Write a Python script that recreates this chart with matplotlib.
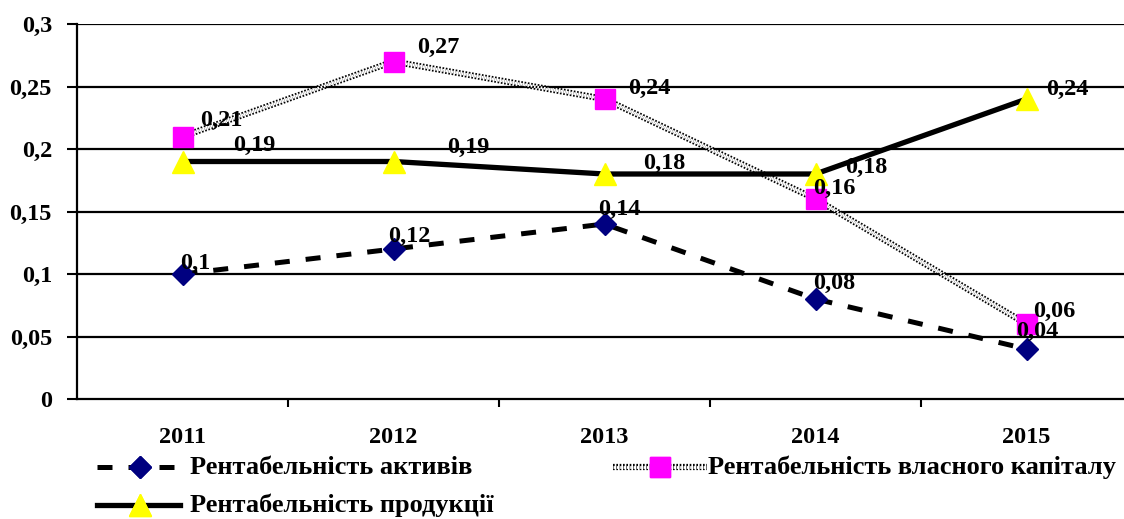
import matplotlib
matplotlib.use("Agg")
import matplotlib.pyplot as plt
import matplotlib.patheffects as pe
from matplotlib.lines import Line2D

years = ["2011", "2012", "2013", "2014", "2015"]
assets = [0.10, 0.12, 0.14, 0.08, 0.04]
equity = [0.21, 0.27, 0.24, 0.16, 0.06]
product = [0.19, 0.19, 0.18, 0.18, 0.24]
names = ["Рентабельність активів", "Рентабельність власного капіталу",
         "Рентабельність продукції"]

# label offsets in pixels (dx, dy) from each point
off_assets = [(-2, 11), (-5, 13), (-6, 15), (-2, 16), (-10, 18)]
off_equity = [(18, 16), (24, 14), (24, 11), (-2, 11), (7, 13)]
off_product = [(51, 16), (54, 14), (39, 11), (30, 7), (20, 10)]

plt.rcParams["font.family"] = ["Liberation Serif", "DejaVu Serif"]
plt.rcParams["font.weight"] = "bold"

fig = plt.figure(figsize=(11.24, 5.19), dpi=100)
ax = fig.add_axes([77 / 1124, 120 / 519, 1055 / 1124, 375 / 519])

x = list(range(len(years)))
ax.set_xlim(-0.5, 4.5)
ax.set_ylim(0, 0.3)

yt = [0, 0.05, 0.1, 0.15, 0.2, 0.25, 0.3]
for v in yt[1:]:
    ax.axhline(v, color="black", lw=1.6, zorder=1)
ax.set_yticks(yt)
ax.set_yticklabels(["0", "0,05", "0,1", "0,15", "0,2", "0,25", "0,3"])
ax.tick_params(axis="y", length=7, width=1.5, labelsize=17.5, pad=11)

ax.set_xticks([0.5, 1.5, 2.5, 3.5])
ax.set_xticklabels([])
ax.tick_params(axis="x", which="major", length=6, width=1.5)
ax.set_xticks(x, minor=True)
ax.set_xticklabels(years, minor=True)
ax.tick_params(axis="x", which="minor", length=0, labelsize=17.5, pad=20)

for s in ["top", "right"]:
    ax.spines[s].set_visible(False)
ax.spines["left"].set_linewidth(1.6)
ax.spines["bottom"].set_linewidth(1.6)

checker = [pe.Stroke(linewidth=4.5, foreground="black"), pe.Normal()]

ax.plot(x, assets, color="black", lw=3.6, ls=(0, (3, 3.2)), zorder=3)
ax.plot(x, assets, ls="none", marker="D", ms=11, color="#000080", zorder=5)
ax.plot(x, equity, color="white", lw=2.0, ls=(0, (0.6, 0.6)), zorder=3,
        path_effects=checker)
ax.plot(x, equity, ls="none", marker="s", ms=15, color="#ff00ff", zorder=5)
ax.plot(x, product, color="black", lw=3.8, zorder=3)
ax.plot(x, product, ls="none", marker="^", ms=16, color="#ffff00", zorder=5)

def fmt(v):
    return ("%g" % v).replace(".", ",")

for vals, offs in [(assets, off_assets), (equity, off_equity), (product, off_product)]:
    for xi, v, (dx, dy) in zip(x, vals, offs):
        ax.annotate(fmt(v), (xi, v), xytext=(dx, dy), textcoords="offset pixels",
                    ha="left", va="center", fontsize=17.5, fontweight="bold", zorder=6)

# legend drawn manually in figure pixels
W, H = 1124.0, 519.0
def fl(x0, x1, y, **kw):
    fig.add_artist(Line2D([x0 / W, x1 / W], [1 - y / H, 1 - y / H],
                          transform=fig.transFigure, **kw))

fl(97, 175, 467, color="black", lw=3.6, ls=(0, (3, 3.2)))
fl(140, 140, 467, marker="D", ms=11, color="#000080", ls="none")
fig.text(190 / W, 1 - 467 / H, names[0], fontsize=19, va="center", ha="left")

fl(613, 707, 467, color="white", lw=2.0, ls=(0, (0.6, 0.6)), path_effects=checker)
fl(660, 660, 467, marker="s", ms=15, color="#ff00ff", ls="none")
fig.text(708 / W, 1 - 467 / H, names[1], fontsize=19, va="center", ha="left")

fl(97, 180, 505, color="black", lw=3.8)
fl(140, 140, 505, marker="^", ms=16, color="#ffff00", ls="none")
fig.text(190 / W, 1 - 505 / H, names[2], fontsize=19, va="center", ha="left")

fig.savefig("out.png", dpi=100)
